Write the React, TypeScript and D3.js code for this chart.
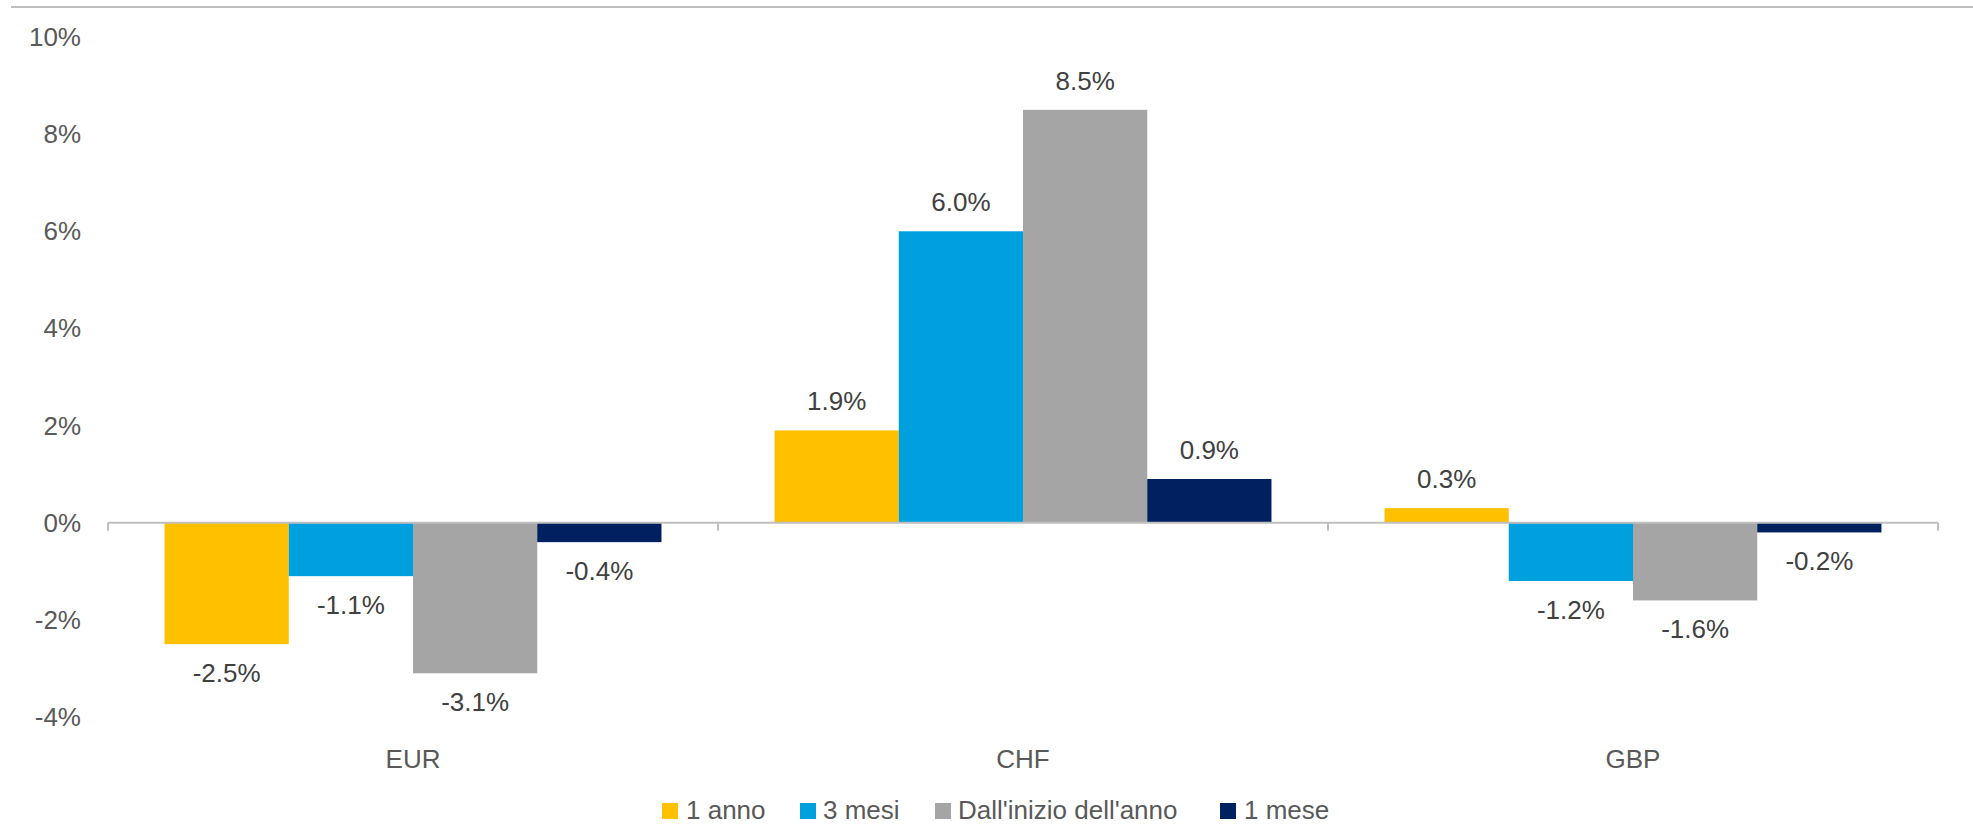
import React from "react";
import * as d3 from "d3";

const categories = ["EUR", "CHF", "GBP"];
const seriesNames = ["1 anno", "3 mesi", "Dall'inizio dell'anno", "1 mese"];
const anno1 = [-2.5, 1.9, 0.3];
const mesi3 = [-1.1, 6.0, -1.2];
const ytd = [-3.1, 8.5, -1.6];
const mese1 = [-0.4, 0.9, -0.2];
const yTicks = [-4, -2, 0, 2, 4, 6, 8, 10];
const colors = ["#FFC000", "#00A0DF", "#A5A5A5", "#002060"];

const W = 1973;
const H = 825;
const FONT = "'Liberation Sans', Arial, sans-serif";

export default function App() {
  const series = [anno1, mesi3, ytd, mese1];
  const x0 = d3.scaleBand<string>().domain(categories).range([108, 1938]).paddingInner(0).paddingOuter(0);
  const x1 = d3
    .scaleBand<string>()
    .domain(seriesNames)
    .range([0, x0.bandwidth()])
    .paddingInner(0)
    .paddingOuter(0.455);
  const y = d3.scaleLinear().domain([-4, 10]).range([717, 37]);
  const y0 = y(0);
  const fmt = (v: number) => v.toFixed(1) + "%";

  const legendItems = [
    { name: seriesNames[0], sx: 662, tx: 686 },
    { name: seriesNames[1], sx: 800, tx: 823 },
    { name: seriesNames[2], sx: 935, tx: 958 },
    { name: seriesNames[3], sx: 1220, tx: 1244 },
  ];

  return (
    <svg
      width={W}
      height={H}
      style={{ position: "absolute", left: 0, top: 0, background: "#fff" }}
      fontFamily={FONT}
    >
      <line x1={11} x2={W} y1={7} y2={7} stroke="#BFBFBF" strokeWidth={2} />
      {yTicks.map((t) => (
        <text key={t} x={81} y={y(t) + 9} textAnchor="end" fontSize={26} fill="#595959">
          {t + "%"}
        </text>
      ))}
      {categories.map((c, ci) => (
        <g key={c}>
          {series.map((s, si) => {
            const v = s[ci];
            const bx = (x0(c) as number) + (x1(seriesNames[si]) as number);
            const top = Math.min(y(v), y0);
            const h = Math.abs(y(v) - y0);
            return (
              <g key={si}>
                <rect x={bx} y={top} width={x1.bandwidth()} height={h} fill={colors[si]} />
                <text
                  x={bx + x1.bandwidth() / 2}
                  y={v >= 0 ? y(v) - 29 + 9 : y(v) + 29 + 9}
                  textAnchor="middle"
                  fontSize={26}
                  fill="#404040"
                >
                  {fmt(v)}
                </text>
              </g>
            );
          })}
          <text
            x={(x0(c) as number) + x0.bandwidth() / 2}
            y={768}
            textAnchor="middle"
            fontSize={26}
            fill="#595959"
          >
            {c}
          </text>
        </g>
      ))}
      <line x1={108} x2={1938} y1={y0} y2={y0} stroke="#BFBFBF" strokeWidth={2} />
      {[...categories.map((c) => x0(c) as number), 1938].map((xx, i) => (
        <line key={i} x1={xx} x2={xx} y1={y0} y2={y0 + 8} stroke="#BFBFBF" strokeWidth={2} />
      ))}
      {legendItems.map((it, i) => (
        <g key={it.name}>
          <rect x={it.sx} y={803} width={16} height={16} fill={colors[i]} />
          <text x={it.tx} y={819} fontSize={26} fill="#595959">
            {it.name}
          </text>
        </g>
      ))}
    </svg>
  );
}
